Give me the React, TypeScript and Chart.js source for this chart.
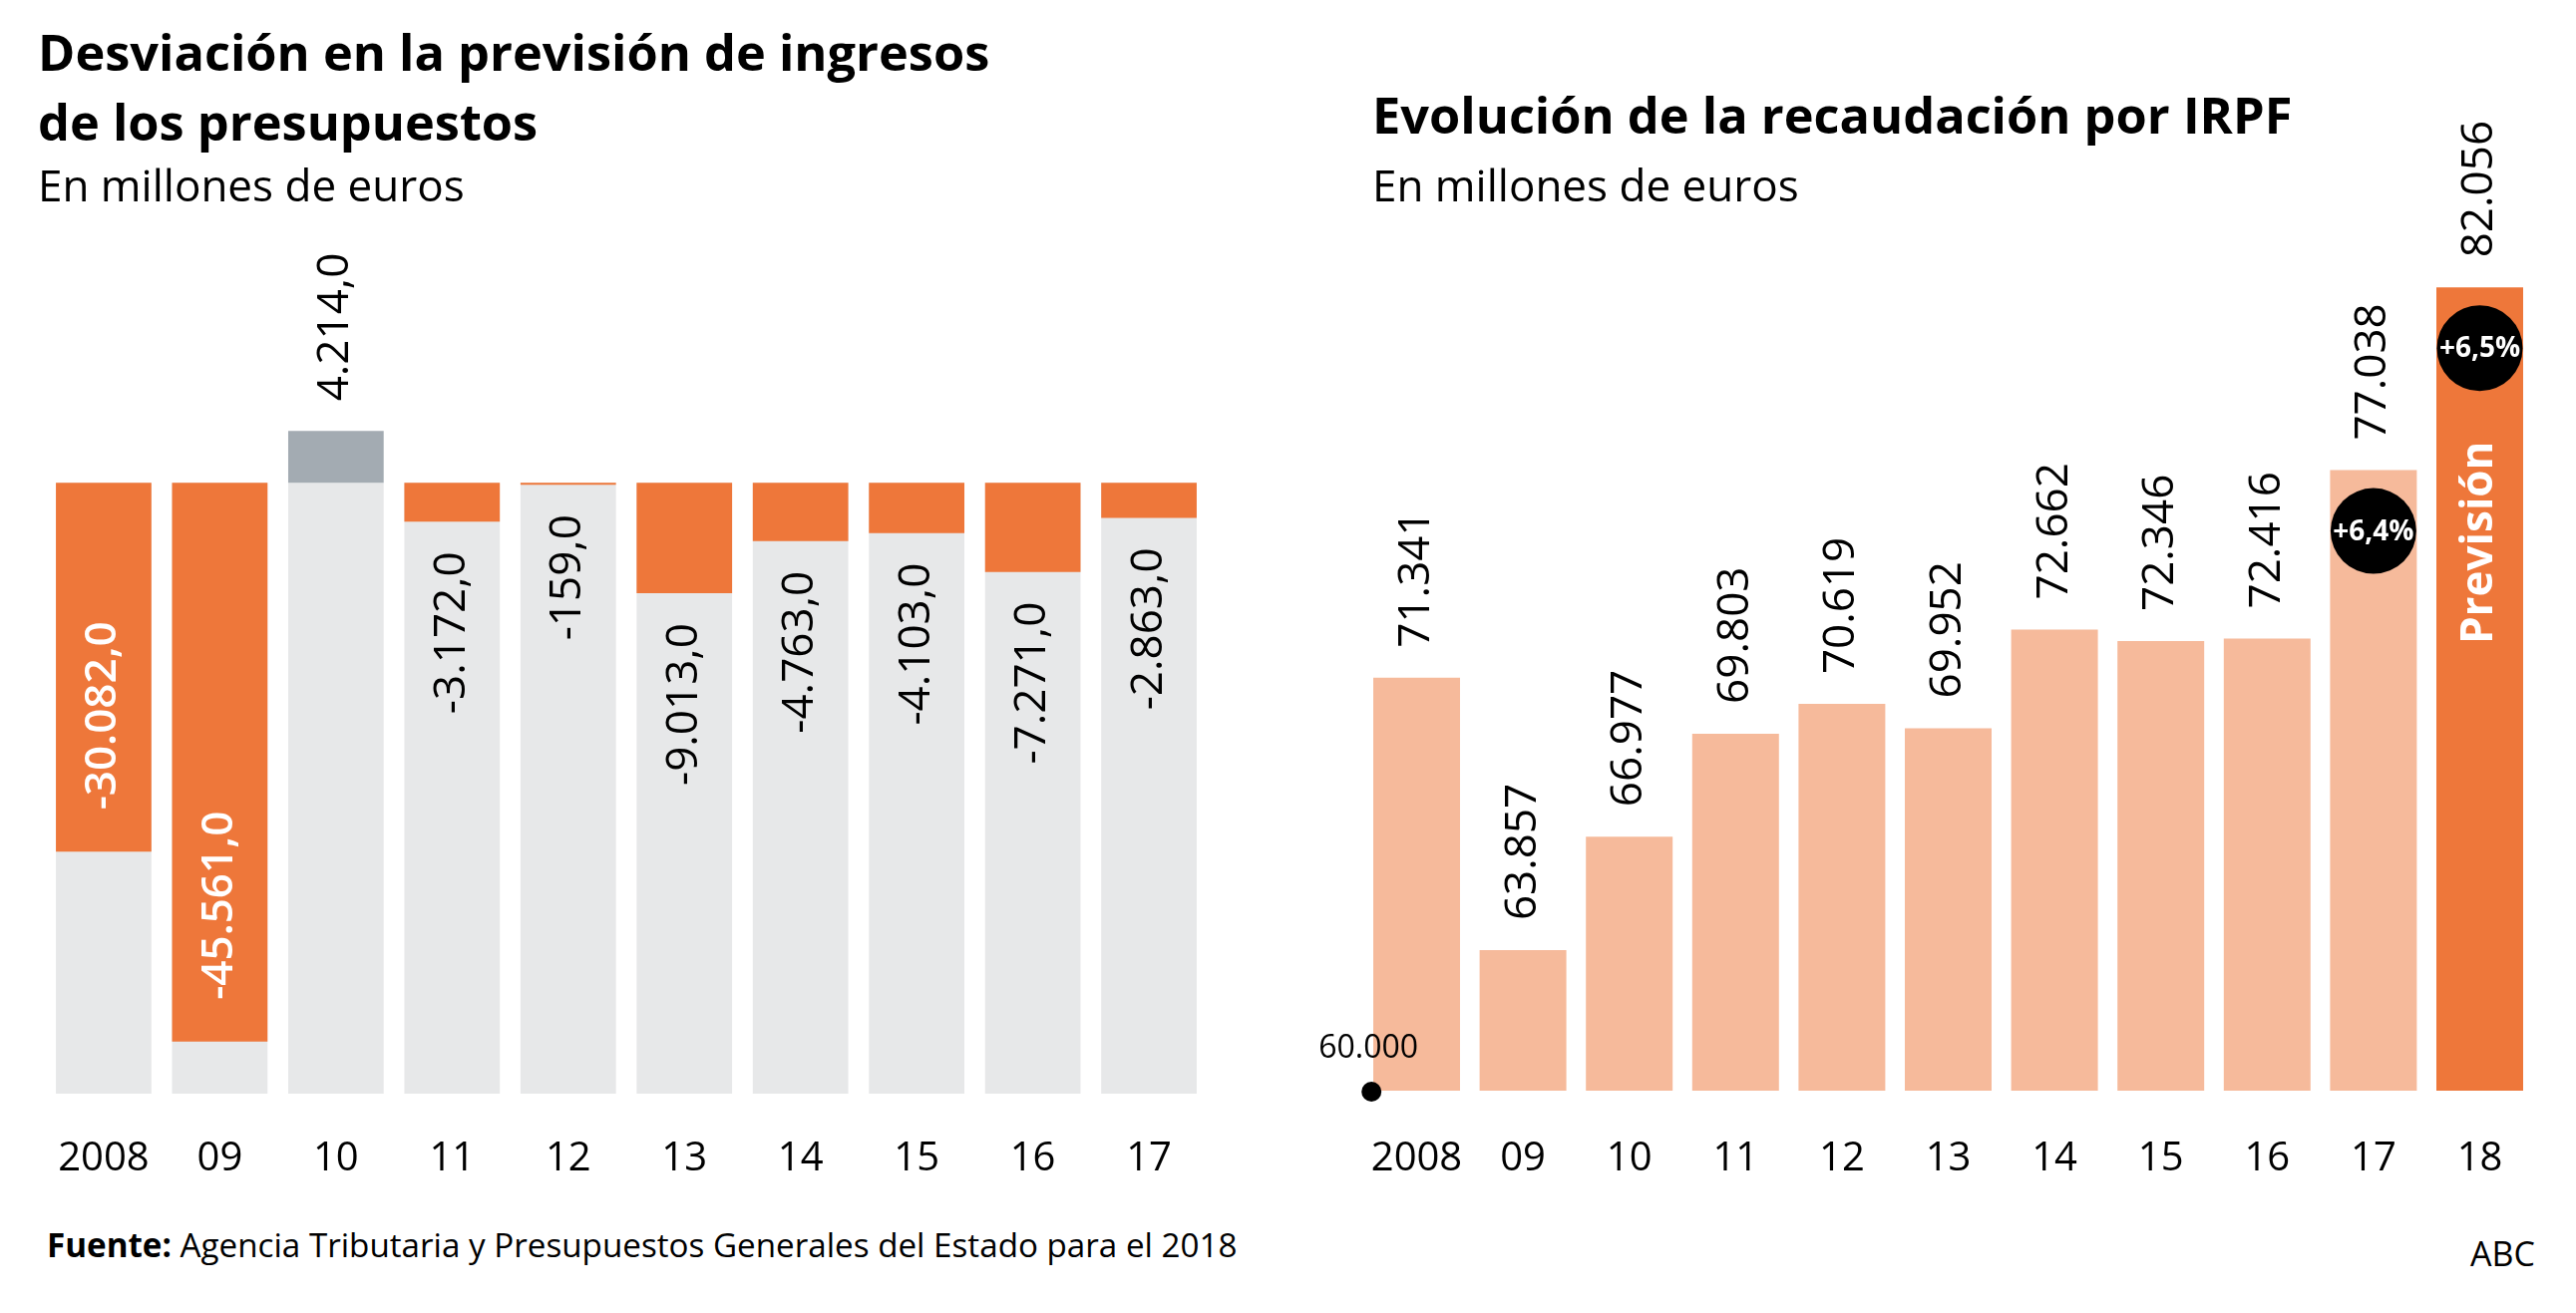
import React, { useEffect, useRef } from 'react';
import { Chart, registerables } from 'chart.js';

Chart.register(...registerables);

// ---------- Data ----------
const deviationYears = ['2008', '09', '10', '11', '12', '13', '14', '15', '16', '17'];
const deviationValues = [-30082, -45561, 4214, -3172, -159, -9013, -4763, -4103, -7271, -2863];
const deviationMin = -49800;
const deviationMax = 20000;

const irpfYears = ['2008', '09', '10', '11', '12', '13', '14', '15', '16', '17', '18'];
const irpfValues = [71341, 63857, 66977, 69803, 70619, 69952, 72662, 72346, 72416, 77038, 82056];
const irpfGrowth = ['', '', '', '', '', '', '', '', '', '+6,4%', '+6,5%'];
const irpfForecast = [false, false, false, false, false, false, false, false, false, false, true];
const irpfForecastLabel = 'Previsión';
const irpfMin = 60000;
const irpfMax = 85000;

// ---------- Styles ----------
const FONT = "'Open Sans', 'Noto Sans', sans-serif";
const ORANGE = '#EE773A';
const GREY_BG = '#E7E8E9';
const STEEL = '#A3ABB2';
const SALMON = '#F6BA9B';
const BLACK = '#000000';

function fmtThousands(n: number): string {
  return Math.abs(n).toString().replace(/\B(?=(\d{3})+(?!\d))/g, '.');
}
function fmtDeviation(v: number): string {
  return (v < 0 ? '-' : '') + fmtThousands(v) + ',0';
}

function rotatedText(
  ctx: CanvasRenderingContext2D,
  text: string,
  x: number,
  y: number,
  align: CanvasTextAlign,
  color: string,
  font: string
) {
  ctx.save();
  ctx.translate(x, y);
  ctx.rotate(-Math.PI / 2);
  ctx.textAlign = align;
  ctx.textBaseline = 'middle';
  ctx.fillStyle = color;
  ctx.font = font;
  ctx.fillText(text, 0, 0);
  ctx.restore();
}

const deviationLabelsPlugin = {
  id: 'deviationLabels',
  afterDatasetsDraw(chart: any) {
    const ctx = chart.ctx as CanvasRenderingContext2D;
    const meta = chart.getDatasetMeta(1);
    meta.data.forEach((el: any, i: number) => {
      const v = deviationValues[i];
      const { x, y } = el.getProps(['x', 'y'], true);
      const text = fmtDeviation(v);
      if (v > 0) {
        rotatedText(ctx, text, x, y - 30, 'left', BLACK, `400 44px ${FONT}`);
      } else if (Math.abs(v) > 20000) {
        rotatedText(ctx, text, x, y - 42, 'left', '#FFFFFF', `600 44px ${FONT}`);
      } else {
        rotatedText(ctx, text, x, y + 30, 'right', BLACK, `400 44px ${FONT}`);
      }
    });
  },
};

const irpfLabelsPlugin = {
  id: 'irpfLabels',
  afterDatasetsDraw(chart: any) {
    const ctx = chart.ctx as CanvasRenderingContext2D;
    const meta = chart.getDatasetMeta(0);
    meta.data.forEach((el: any, i: number) => {
      const { x, y } = el.getProps(['x', 'y'], true);
      rotatedText(ctx, fmtThousands(irpfValues[i]), x, y - 30, 'left', BLACK, `400 44px ${FONT}`);
      if (irpfForecast[i]) {
        rotatedText(ctx, irpfForecastLabel, x, y + 256, 'center', '#FFFFFF', `700 44px ${FONT}`);
      }
      if (irpfGrowth[i]) {
        ctx.save();
        ctx.beginPath();
        ctx.arc(x, y + 61, 43, 0, Math.PI * 2);
        ctx.fillStyle = BLACK;
        ctx.fill();
        ctx.fillStyle = '#FFFFFF';
        ctx.font = `700 28px ${FONT}`;
        ctx.textAlign = 'center';
        ctx.textBaseline = 'middle';
        ctx.fillText(irpfGrowth[i], x, y + 62);
        ctx.restore();
      }
    });
    // axis base marker
    const yScale = chart.scales.y;
    const baseY = yScale.getPixelForValue(irpfMin);
    const left = chart.chartArea.left;
    ctx.save();
    ctx.beginPath();
    ctx.arc(left + 8, baseY + 1, 10, 0, Math.PI * 2);
    ctx.fillStyle = BLACK;
    ctx.fill();
    ctx.font = `400 32px ${FONT}`;
    ctx.textAlign = 'left';
    ctx.textBaseline = 'alphabetic';
    ctx.fillText(fmtThousands(irpfMin), left - 45, baseY - 33);
    ctx.restore();
  },
};

function DeviationChart() {
  const ref = useRef<HTMLCanvasElement | null>(null);
  useEffect(() => {
    if (!ref.current) return;
    const chart = new Chart(ref.current, {
      type: 'bar',
      data: {
        labels: deviationYears,
        datasets: [
          {
            data: deviationYears.map(() => deviationMin),
            backgroundColor: GREY_BG,
            grouped: false,
            order: 2,
            barPercentage: 0.822,
            categoryPercentage: 1,
            borderWidth: 0,
          } as any,
          {
            data: deviationValues,
            backgroundColor: deviationValues.map((v) => (v < 0 ? ORANGE : STEEL)),
            grouped: false,
            order: 1,
            barPercentage: 0.822,
            categoryPercentage: 1,
            borderWidth: 0,
          } as any,
        ],
      },
      options: {
        responsive: false,
        maintainAspectRatio: false,
        animation: false,
        layout: { padding: { left: 45.7, right: 49.7, top: 238.1, bottom: 0 } },
        plugins: { legend: { display: false }, tooltip: { enabled: false }, title: { display: false } },
        scales: {
          x: {
            display: true,
            grid: { display: false, drawTicks: false },
            border: { display: false },
            ticks: { color: BLACK, font: { family: FONT, size: 40 }, padding: 42, maxRotation: 0, autoSkip: false },
            afterFit: (s: any) => {
              s.height = 100;
            },
          },
          y: { display: false, min: deviationMin, max: deviationMax },
        },
      },
      plugins: [deviationLabelsPlugin],
    } as any);
    return () => chart.destroy();
  }, []);
  return (
    <canvas
      ref={ref}
      width={1260}
      height={1197}
      style={{ position: 'absolute', left: 0, top: 0, width: 1260, height: 1197 }}
    />
  );
}

function IrpfChart() {
  const ref = useRef<HTMLCanvasElement | null>(null);
  useEffect(() => {
    if (!ref.current) return;
    const chart = new Chart(ref.current, {
      type: 'bar',
      data: {
        labels: irpfYears,
        datasets: [
          {
            data: irpfValues,
            backgroundColor: irpfForecast.map((f) => (f ? ORANGE : SALMON)),
            barPercentage: 0.816,
            categoryPercentage: 1,
            borderWidth: 0,
          } as any,
        ],
      },
      options: {
        responsive: false,
        maintainAspectRatio: false,
        animation: false,
        layout: { padding: { left: 97.2, right: 43.2, top: 180.75, bottom: 0 } },
        plugins: { legend: { display: false }, tooltip: { enabled: false }, title: { display: false } },
        scales: {
          x: {
            display: true,
            grid: { display: false, drawTicks: false },
            border: { display: false },
            ticks: { color: BLACK, font: { family: FONT, size: 40 }, padding: 45, maxRotation: 0, autoSkip: false },
            afterFit: (s: any) => {
              s.height = 100;
            },
          },
          y: { display: false, min: irpfMin, max: irpfMax },
        },
      },
      plugins: [irpfLabelsPlugin],
    } as any);
    return () => chart.destroy();
  }, []);
  return (
    <canvas
      ref={ref}
      width={1313}
      height={1194}
      style={{ position: 'absolute', left: 1270, top: 0, width: 1313, height: 1194 }}
    />
  );
}

function Txt(props: {
  x?: number;
  right?: number;
  baseline: number;
  size: number;
  weight?: number;
  children: React.ReactNode;
}) {
  const { x, right, baseline, size, weight = 400, children } = props;
  const style: React.CSSProperties = {
    position: 'absolute',
    top: baseline - 0.888 * size,
    fontFamily: FONT,
    fontSize: size,
    fontWeight: weight,
    lineHeight: `${size}px`,
    color: '#000',
    whiteSpace: 'nowrap',
  };
  if (x !== undefined) style.left = x;
  if (right !== undefined) style.right = right;
  return <div style={style}>{children}</div>;
}

export default function App() {
  return (
    <div
      style={{
        position: 'absolute',
        left: 0,
        top: 0,
        width: 2583,
        height: 1317,
        background: '#FFFFFF',
        overflow: 'hidden',
      }}
    >
      <DeviationChart />
      <IrpfChart />
      <Txt x={38} baseline={72} size={50.5} weight={700}>
        Desviación en la previsión de ingresos
      </Txt>
      <Txt x={38} baseline={141.7} size={50.5} weight={700}>
        de los presupuestos
      </Txt>
      <Txt x={38} baseline={201.7} size={44}>
        En millones de euros
      </Txt>
      <Txt x={1376} baseline={135} size={50.5} weight={700}>
        Evolución de la recaudación por IRPF
      </Txt>
      <Txt x={1376} baseline={201.7} size={44}>
        En millones de euros
      </Txt>
      <Txt x={47} baseline={1261.7} size={33.2}>
        <span style={{ fontWeight: 700 }}>Fuente:</span> Agencia Tributaria y Presupuestos Generales del Estado para el 2018
      </Txt>
      <Txt right={41} baseline={1270} size={34}>
        ABC
      </Txt>
    </div>
  );
}
